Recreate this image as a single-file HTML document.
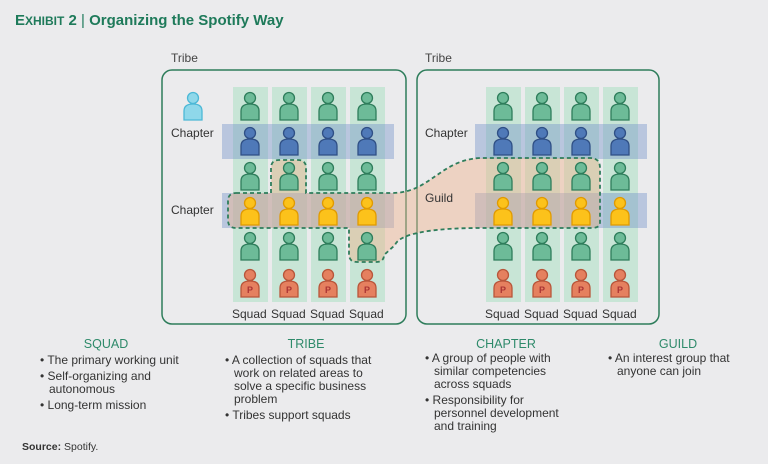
<!DOCTYPE html>
<html><head><meta charset="utf-8"><style>
body{margin:0;background:#ebebed;}
svg{display:block;font-family:"Liberation Sans",sans-serif;}
</style></head><body>
<svg id="s" width="768" height="464" viewBox="0 0 768 464">
<rect width="768" height="464" fill="#ebebed"/>
<text x="15" y="25" font-size="15" font-weight="bold" fill="#1e7a5a">E<tspan font-size="12">XHIBIT</tspan> 2 <tspan font-weight="normal">|</tspan> Organizing the Spotify Way</text>
<text x="171" y="62" font-size="12" fill="#444">Tribe</text>
<text x="425" y="62" font-size="12" fill="#444">Tribe</text>
<rect x="162" y="70" width="244" height="254" rx="10" fill="none" stroke="#2e7d5b" stroke-width="1.5"/>
<rect x="417" y="70" width="242" height="254" rx="10" fill="none" stroke="#2e7d5b" stroke-width="1.5"/>
<g id="cols"></g>
<rect x="222" y="124" width="172" height="35" fill="#6f8fc8" opacity="0.4"/>
<rect x="222" y="193" width="172" height="35" fill="#6f8fc8" opacity="0.4"/>
<rect x="475" y="124" width="172" height="35" fill="#6f8fc8" opacity="0.4"/>
<rect x="475" y="193" width="172" height="35" fill="#6f8fc8" opacity="0.4"/>
<path d="M236,193 L271,193 L271,168 Q271,160 279,160 L298,160 Q306,160 306,168 L306,193 L392,193 C430,193 440,160 480,158 L590,158 Q600,158 600,168 L600,222 Q600,228 592,228 L480,228 C440,228 400,232 395,245 L384,255 Q384,262 376,262 L357,262 Q349,262 349,254 L349,228 L236,228 Q228,228 228,220 L228,201 Q228,193 236,193 Z" fill="#f0b48f" fill-opacity="0.45" stroke="#2e7d5b" stroke-width="1.8" stroke-dasharray="4,3"/>
<g id="people"></g>
<g font-size="12" fill="#333">
<text x="171" y="137">Chapter</text>
<text x="171" y="214">Chapter</text>
<text x="425" y="137">Chapter</text>
<text x="425" y="202">Guild</text>
<text x="232" y="318">Squad</text><text x="271" y="318">Squad</text><text x="310" y="318">Squad</text><text x="349" y="318">Squad</text>
<text x="485" y="318">Squad</text><text x="524" y="318">Squad</text><text x="563" y="318">Squad</text><text x="602" y="318">Squad</text>
</g>
<g font-size="12" fill="#333">
<text x="106" y="348" font-size="12.5" fill="#2e8a6a" text-anchor="middle">SQUAD</text>
<text x="306" y="348" font-size="12.5" fill="#2e8a6a" text-anchor="middle">TRIBE</text>
<text x="506" y="348" font-size="12.5" fill="#2e8a6a" text-anchor="middle">CHAPTER</text>
<text x="678" y="348" font-size="12.5" fill="#2e8a6a" text-anchor="middle">GUILD</text>
<text x="40" y="364">• The primary working unit</text>
<text x="40" y="380">• Self-organizing and</text><text x="49" y="393">autonomous</text>
<text x="40" y="409">• Long-term mission</text>
<text x="225" y="364">• A collection of squads that</text>
<text x="234" y="377">work on related areas to</text>
<text x="234" y="390">solve a specific business</text>
<text x="234" y="403">problem</text>
<text x="225" y="419">• Tribes support squads</text>
<text x="425" y="362">• A group of people with</text>
<text x="434" y="375">similar competencies</text>
<text x="434" y="388">across squads</text>
<text x="425" y="404">• Responsibility for</text>
<text x="434" y="417">personnel development</text>
<text x="434" y="430">and training</text>
<text x="608" y="362">• An interest group that</text>
<text x="617" y="375">anyone can join</text>
<text x="22" y="450" font-size="10.5"><tspan font-weight="bold">Source:</tspan> Spotify.</text>
</g>
<g id="plabels" font-size="9" fill="#fff" font-weight="bold" text-anchor="middle">
<text x="250" y="293" fill="#a33">P</text><text x="289" y="293" fill="#a33">P</text><text x="328" y="293" fill="#a33">P</text><text x="367" y="293" fill="#a33">P</text>
<text x="503" y="293" fill="#a33">P</text><text x="542" y="293" fill="#a33">P</text><text x="581" y="293" fill="#a33">P</text><text x="620" y="293" fill="#a33">P</text>
</g>
</svg>
<script>
var NS="http://www.w3.org/2000/svg";
function el(p,t,a){var e=document.createElementNS(NS,t);for(var k in a)e.setAttribute(k,a[k]);p.appendChild(e);return e;}
var cols=document.getElementById("cols"),pp=document.getElementById("people");
var xs=[250,289,328,367,503,542,581,620];
xs.forEach(function(x){el(cols,"rect",{x:x-17,y:87,width:35,height:215,fill:"#bfe3cf",opacity:0.8});});
var rows=[107,142,177,212,247,284];
var cl={g:["#6dbb98","#2e7d5b"],b:["#4f79b8","#2f4f85"],y:["#fcc21b","#e09a00"],o:["#e5805f","#b8553a"],c:["#8fd8ea","#4cb8d6"]};
function person(x,y,c){var f=cl[c];
el(pp,"path",{d:"M"+(x-9)+","+(y+13)+" L"+(x-9)+","+(y+4)+" Q"+(x-9)+","+(y-3)+" "+x+","+(y-3)+" Q"+(x+9)+","+(y-3)+" "+(x+9)+","+(y+4)+" L"+(x+9)+","+(y+13)+" Z",fill:f[0],stroke:f[1],"stroke-width":1.3});
el(pp,"circle",{cx:x,cy:y-9,r:5.5,fill:f[0],stroke:f[1],"stroke-width":1.3});}
xs.forEach(function(x){var t=["g","b","g","y","g","o"];rows.forEach(function(y,i){person(x,y,t[i]);});});
person(193,107,"c");
document.getElementById("s").appendChild(document.getElementById("plabels"));
</script>
</body></html>
